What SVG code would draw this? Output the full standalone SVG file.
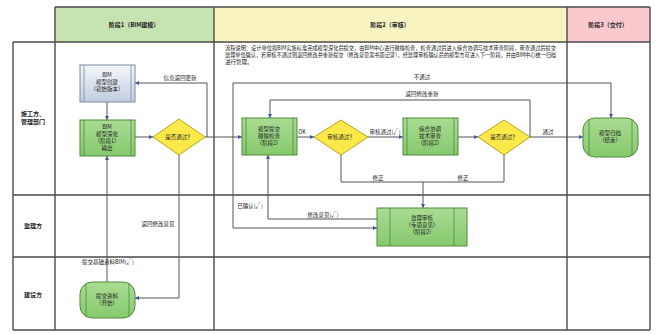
<svg xmlns="http://www.w3.org/2000/svg" width="657" height="334" viewBox="0 0 657 334">
<defs>
<style>
.grid{stroke:#4a4a4a;stroke-width:1.4;fill:none}
.t{font-family:"Noto Sans CJK SC","Noto Sans",sans-serif;font-size:5.5px;fill:#222;text-anchor:middle}
.tb{font-family:"Noto Sans CJK SC","Noto Sans",sans-serif;font-size:6px;fill:#222;text-anchor:middle;font-weight:bold}
.d{font-family:"Noto Sans CJK SC","Noto Sans",sans-serif;font-size:5.5px;fill:#222}
.gbox{fill:url(#gg);stroke:#4e8c3c;stroke-width:1}
.bbox{fill:url(#bg);stroke:#7b8aa3;stroke-width:1}
.dia{fill:#fbe94a;stroke:#b9a21c;stroke-width:1}
.in{stroke:#4e8c3c;stroke-width:0.8}
.inb{stroke:#7b8aa3;stroke-width:0.8}
.c{fill:none;stroke:#555;stroke-width:1}
</style>
<linearGradient id="gg" x1="0" y1="0" x2="0" y2="1"><stop offset="0" stop-color="#a9dc93"/><stop offset="1" stop-color="#86c96d"/></linearGradient>
<linearGradient id="bg" x1="0" y1="0" x2="0" y2="1"><stop offset="0" stop-color="#f4f6fa"/><stop offset="1" stop-color="#c2cde0"/></linearGradient>
<marker id="a" viewBox="0 0 6 6" refX="6" refY="3" markerWidth="4" markerHeight="4" orient="auto"><path d="M0,0 L6,3 L0,6 z" fill="#3a5aa0"/></marker>
</defs>
<rect width="657" height="334" fill="#fff"/>
<g id="table">
<rect x="55" y="7" width="159" height="35" fill="#c6e3b2"/>
<rect x="214" y="7" width="353" height="35" fill="#f8f4c2"/>
<rect x="567" y="7" width="83" height="35" fill="#f9c9cd"/>
<path class="grid" d="M55,7 H650 M13,42 H650 M13,195 H650 M13,257 H650 M13,330 H650 M13,42 V330 M55,7 V330 M214,7 V330 M567,7 V330 M650,7 V330"/>
<text class="tb" x="134" y="27">阶段1（BIM建模）</text>
<text class="tb" x="390" y="27">阶段2（审核）</text>
<text class="tb" x="608" y="27">阶段3（交付）</text>
<text class="tb" x="33" y="116">施工方、</text>
<text class="tb" x="33" y="124">管理部门</text>
<text class="tb" x="33" y="228">监理方</text>
<text class="tb" x="33" y="297">建设方</text>
<text class="d" x="225" y="50" textLength="331" lengthAdjust="spacingAndGlyphs">流程说明：设计单位按BIM实施标准完成模型深化后提交，由BIM中心进行碰撞检查，检查通过后进入综合协调与技术审查阶段，审查通过后提交</text>
<text class="d" x="225" y="57" textLength="331" lengthAdjust="spacingAndGlyphs">监理单位确认，若审核不通过则退回修改并重新提交（修改意见需书面记录），经监理审核确认后的模型方可进入下一阶段，并由BIM中心统一归档</text>
<text class="d" x="225" y="64">进行管理。</text>
</g>
<g id="connectors">
<path class="c" d="M107,102 V120" marker-end="url(#a)"/>
<path class="c" d="M135,137 H153" marker-end="url(#a)"/>
<path class="c" d="M205,137 H242" marker-end="url(#a)"/>
<path class="c" d="M207,137 V83 H135" marker-end="url(#a)"/>
<path class="c" d="M179,155 V298 H135" marker-end="url(#a)"/>
<path class="c" d="M107,282 V156" marker-end="url(#a)"/>
<path class="c" d="M233,137 V228 H377" marker-end="url(#a)"/>
<path class="c" d="M233,137 V83 H611 V118" marker-end="url(#a)"/>
<path class="c" d="M377,219 H268 V155" marker-end="url(#a)"/>
<path class="c" d="M297,137 H314" marker-end="url(#a)"/>
<path class="c" d="M368,137 H403" marker-end="url(#a)"/>
<path class="c" d="M458,137 H478" marker-end="url(#a)"/>
<path class="c" d="M530,137 H583" marker-end="url(#a)"/>
<path class="c" d="M530,137 V100 H270 V118" marker-end="url(#a)"/>
<path class="c" d="M341,155 V182 H504 V155"/>
<path class="c" d="M423,182 V208" marker-end="url(#a)"/>
<text class="t" x="180" y="80">信息返回更新</text>
<text class="t" x="158" y="226">返回修改意见</text>
<text class="t" x="108" y="264">提交基础资料BIM(√)</text>
<text class="t" x="250" y="208">已确认(√)</text>
<text class="t" x="422" y="79">不通过</text>
<text class="t" x="422" y="96">返回修改重新</text>
<text class="t" x="323" y="217">修改意见(√)</text>
<text class="t" x="302" y="134">OK</text>
<text class="t" x="385" y="134">审核通过(√)</text>
<text class="t" x="378" y="180">修正</text>
<text class="t" x="463" y="180">修正</text>
<text class="t" x="548" y="134">通过</text>
</g>
<g id="n-model">
<rect class="bbox" x="80" y="65" width="55" height="37"/>
<path class="inb" d="M84,65 V102 M131,65 V102"/>
<text class="t" x="107" y="77">BIM</text>
<text class="t" x="107" y="84">模型创建</text>
<text class="t" x="107" y="91">（初始版本）</text>
</g>
<g id="n-deepen">
<rect class="gbox" x="80" y="120" width="55" height="36"/>
<path class="in" d="M84,120 V156 M131,120 V156"/>
<text class="t" x="107" y="129">BIM</text>
<text class="t" x="107" y="136">模型深化</text>
<text class="t" x="107" y="143">（阶段1）</text>
<text class="t" x="107" y="150">输出</text>
</g>
<g id="n-d1">
<polygon class="dia" points="179,119 205,137 179,155 153,137"/>
<text class="t" x="179" y="139">是否通过？</text>
</g>
<g id="n-start">
<rect class="gbox" x="80" y="282" width="55" height="36" rx="12" ry="12"/>
<path class="in" d="M86,283 V317 M129,283 V317"/>
<text class="t" x="107" y="298">提交资料</text>
<text class="t" x="107" y="305">（开始）</text>
</g>
<g id="n-a">
<rect class="gbox" x="242" y="118" width="55" height="37"/>
<path class="in" d="M246,118 V155 M293,118 V155"/>
<text class="t" x="269" y="131">模型提交</text>
<text class="t" x="269" y="138">碰撞检查</text>
<text class="t" x="269" y="145">（阶段2）</text>
</g>
<g id="n-b">
<polygon class="dia" points="341,120 368,137 341,155 314,137"/>
<text class="t" x="341" y="139">审核通过？</text>
</g>
<g id="n-c">
<rect class="gbox" x="403" y="118" width="55" height="37"/>
<path class="in" d="M407,118 V155 M454,118 V155"/>
<text class="t" x="430" y="131">综合协调</text>
<text class="t" x="430" y="138">技术审查</text>
<text class="t" x="430" y="145">（阶段2）</text>
</g>
<g id="n-d">
<polygon class="dia" points="504,120 530,137 504,155 478,137"/>
<text class="t" x="504" y="139">是否通过？</text>
</g>
<g id="n-end">
<rect class="gbox" x="583" y="118" width="55" height="39" rx="12" ry="12"/>
<path class="in" d="M589,119 V156 M632,119 V156"/>
<text class="t" x="610" y="135">模型归档</text>
<text class="t" x="610" y="142">（结束）</text>
</g>
<g id="n-e">
<rect class="gbox" x="377" y="208" width="90" height="38"/>
<path class="in" d="M390,208 V246 M454,208 V246"/>
<text class="t" x="422" y="220">监理审核</text>
<text class="t" x="422" y="227">（专项意见）</text>
<text class="t" x="422" y="234">（阶段2）</text>
</g>
</svg>
